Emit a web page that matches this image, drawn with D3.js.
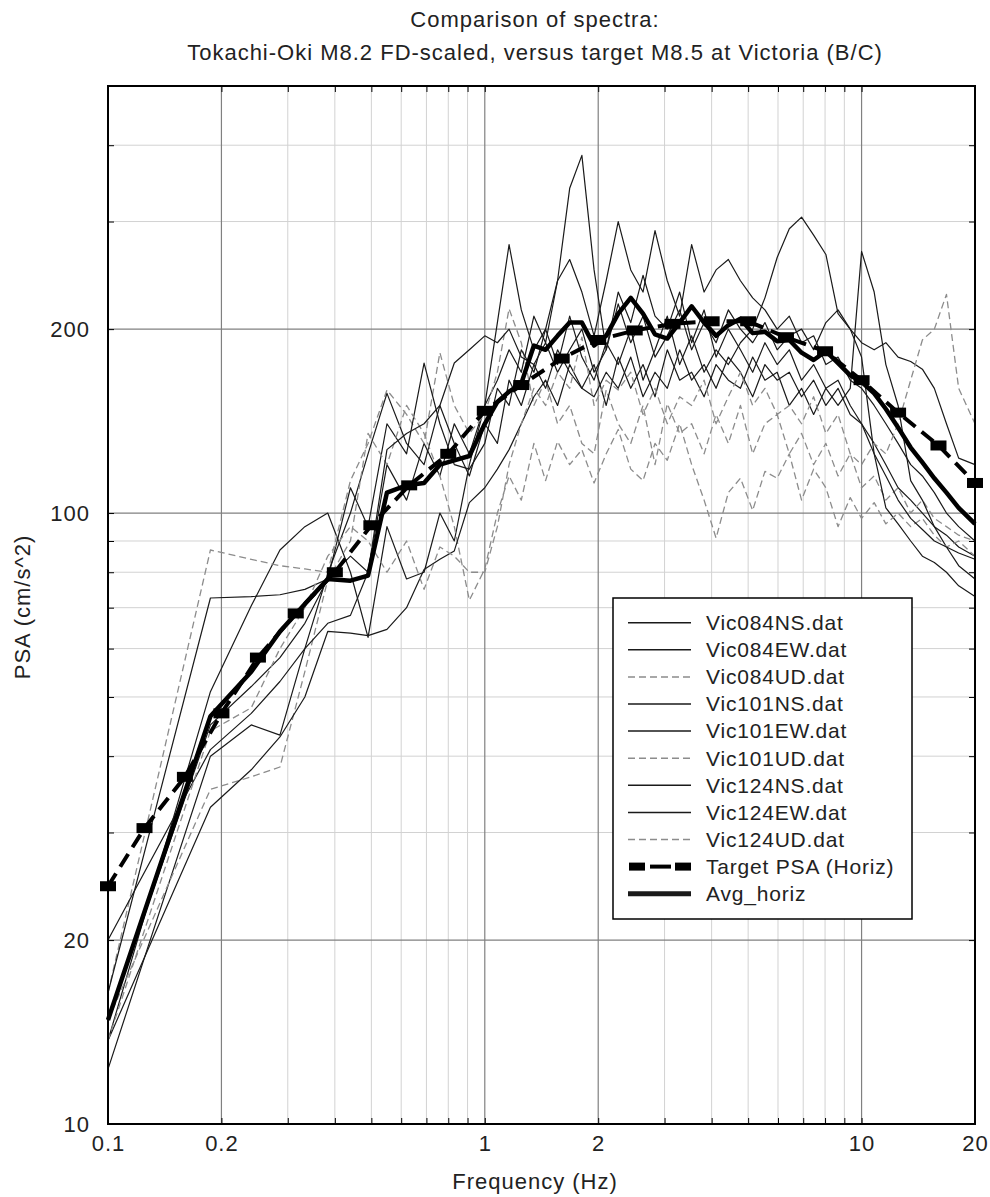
<!DOCTYPE html>
<html>
<head>
<meta charset="utf-8">
<script src="https://cdn.jsdelivr.net/npm/d3@7"></script>
<style>
  body { margin: 0; background: #fff; }
  svg text { font-family: "Liberation Sans", Arial, sans-serif; fill: #222; }
</style>
</head>
<body>
<div class="visHolder"></div>
<script>
const w = 990, h = 1197;
const margin = {top: 86, right: 15, bottom: 73, left: 108};

// frequencies (Hz) shared by the recorded spectra
const freqs = [0.1, 0.187, 0.24, 0.286, 0.333, 0.383, 0.44, 0.49, 0.55, 0.62, 0.69, 0.76, 0.83, 0.91,
  1.0, 1.08, 1.16, 1.25, 1.35, 1.45, 1.56, 1.68, 1.81, 1.95,
  2.1, 2.26, 2.44, 2.63, 2.83, 3.05, 3.29, 3.54, 3.82, 4.11,
  4.43, 4.77, 5.14, 5.54, 5.97, 6.43, 6.93, 7.46, 8.04, 8.66,
  9.33, 10.0, 10.8, 11.6, 12.5, 13.5, 14.5, 15.6, 16.8, 18.1, 20];

// PSA (cm/s^2)
const vic084NS = [14.8, 45, 52, 58, 66, 78, 85, 80, 120, 105, 130, 115, 140, 125,
  150, 165, 185, 170, 210, 190, 240, 340, 385, 250,
  185, 230, 205, 245, 210, 200, 230, 190, 215, 180,
  200, 185, 170, 190, 175, 185, 165, 175, 160, 165,
  150, 140, 130, 120, 110, 105, 100, 95, 92, 88, 85];
const vic084EW = [13.7, 51, 70.5, 87, 95, 100, 80, 62.6, 95, 78, 80, 100, 90, 120,
  150, 205, 275, 215, 185, 200, 240, 260, 230, 195,
  240, 300, 250, 230, 290, 240, 210, 275, 230, 250,
  260, 240, 225, 215, 200, 210, 190, 195, 175, 180,
  165, 160, 150, 140, 130, 120, 115, 108, 100, 95, 90];
const vic084UD = [16.4, 87, 84, 82, 81, 80, 113, 130, 159, 145, 130, 183, 150, 135,
  145, 170, 216, 190, 150, 165, 140, 150, 130, 125,
  159, 140, 130, 150, 120, 151, 135, 140, 125, 145,
  130, 150, 125, 140, 145, 125, 135, 120, 130, 115,
  125, 110, 115, 105, 110, 100, 105, 98, 95, 92, 90];
const vic101NS = [16.4, 72.6, 73, 73.5, 75, 78, 110, 95, 140, 125, 176, 140, 120, 118,
  130, 160, 150, 185, 170, 200, 175, 210, 180, 165,
  190, 175, 200, 165, 185, 210, 175, 195, 170, 185,
  175, 190, 200, 225, 262, 292, 305, 285, 265, 212,
  200, 180, 125, 102, 96, 90, 85, 83, 80, 76, 73];
const vic101EW = [12.3, 40, 45, 43.3, 60, 79.6, 100, 125, 157, 130, 120, 150, 130, 115,
  140, 130, 165, 150, 175, 160, 185, 170, 160, 175,
  150, 180, 160, 175, 155, 185, 165, 170, 155, 175,
  165, 160, 180, 165, 170, 150, 160, 145, 160, 150,
  160, 268, 230, 175, 150, 113, 105, 95, 88, 82, 78];
const vic101UD = [14.8, 35.3, 37, 38.4, 55, 77.7, 90, 135, 120, 150, 135, 115, 95, 72,
  81, 100, 115, 105, 130, 113, 131, 120, 127, 112,
  125, 137, 118, 113, 130, 122, 140, 120, 105, 91,
  108, 114, 101, 117, 114, 125, 105, 118, 110, 95,
  106, 98, 104, 96, 100, 95, 98, 92, 88, 90, 85];
const vic124NS = [20, 41, 47, 53, 60, 66, 68, 80, 127, 135, 140, 150, 176, 185,
  195, 190, 200, 180, 175, 190, 170, 185, 200, 170,
  185, 220, 190, 210, 180, 195, 215, 185, 205, 190,
  215, 200, 190, 205, 185, 195, 200, 185, 205, 215,
  200, 190, 185, 190, 180, 177, 172, 160, 140, 123, 120];
const vic124EW = [13.7, 33, 38, 43, 50, 64, 63.6, 63, 64.5, 70, 80.8, 84, 86.7, 104,
  110, 118, 127, 140, 155, 165, 150, 175, 160, 155,
  170, 160, 180, 155, 170, 160, 185, 165, 175, 160,
  180, 170, 155, 175, 165, 170, 155, 165, 150, 160,
  145, 140, 125, 115, 105, 98, 94, 90, 88, 86, 84];
const vic124UD = [13.7, 44, 48, 60, 70, 85, 95, 90, 80, 90, 75, 88, 85, 80,
  80, 95, 120, 140, 160, 150, 170, 160, 194, 150,
  165, 159, 170, 145, 160, 140, 155, 150, 165, 140,
  155, 170, 150, 160, 145, 150, 140, 155, 135, 145,
  125, 120, 130, 125, 140, 165, 192, 200, 228, 160, 140];
const avgHoriz = [14.8, 46.5, 55, 64, 71, 78, 77.5, 79, 108, 111, 112, 120, 122, 124,
  140, 152, 158, 163, 188, 185, 195, 205, 205, 188,
  195, 212, 225, 212, 196, 193, 205, 218, 205, 195,
  203, 208, 197, 198, 191, 192, 183, 178, 184, 176,
  168, 164, 157, 148, 138, 128, 121, 114, 108, 102, 96];

// target spectrum
const targetFreqs = [0.1, 0.125, 0.16, 0.2, 0.25, 0.315, 0.4, 0.5, 0.63, 0.8, 1, 1.25,
  1.6, 2, 2.5, 3.15, 4, 5, 6.3, 8, 10, 12.5, 16, 20];
const targetPSA = [24.5, 30.5, 37, 47, 58, 68.5, 80, 95.5, 111, 125, 147, 162,
  179, 192, 199, 204, 206, 206, 194, 184, 165, 146, 129, 112];

const xMajor = [0.2, 1, 2, 10];
const xMinor = [0.3, 0.4, 0.5, 0.6, 0.7, 0.8, 0.9, 3, 4, 5, 6, 7, 8, 9];
const yMajor = [20, 100, 200];
const yMinor = [30, 40, 50, 60, 70, 80, 90, 300, 400];
const xTickLabels = [0.1, 0.2, 1, 2, 10, 20];
const yTickLabels = [10, 20, 100, 200];

const series = [
  {name: 'Vic084NS.dat', values: vic084NS, ud: false},
  {name: 'Vic084EW.dat', values: vic084EW, ud: false},
  {name: 'Vic084UD.dat', values: vic084UD, ud: true},
  {name: 'Vic101NS.dat', values: vic101NS, ud: false},
  {name: 'Vic101EW.dat', values: vic101EW, ud: false},
  {name: 'Vic101UD.dat', values: vic101UD, ud: true},
  {name: 'Vic124NS.dat', values: vic124NS, ud: false},
  {name: 'Vic124EW.dat', values: vic124EW, ud: false},
  {name: 'Vic124UD.dat', values: vic124UD, ud: true}
];

const svg = d3.select('.visHolder')
  .append('svg')
  .attr('width', w)
  .attr('height', h);

const xScale = d3.scaleLog()
  .domain([0.1, 20])
  .range([margin.left, w - margin.right]);

const yScale = d3.scaleLog()
  .domain([10, 500])
  .range([h - margin.bottom, margin.top]);

const x0 = margin.left, x1 = w - margin.right;
const y0 = h - margin.bottom, y1 = margin.top;

// grid
const grid = svg.append('g');
grid.selectAll('.xminor').data(xMinor).join('line')
  .attr('x1', d => xScale(d)).attr('x2', d => xScale(d))
  .attr('y1', y0).attr('y2', y1)
  .attr('stroke', '#d2d2d2').attr('stroke-width', 1);
grid.selectAll('.yminor').data(yMinor).join('line')
  .attr('y1', d => yScale(d)).attr('y2', d => yScale(d))
  .attr('x1', x0).attr('x2', x1)
  .attr('stroke', '#d2d2d2').attr('stroke-width', 1);
grid.selectAll('.xmajor').data(xMajor).join('line')
  .attr('x1', d => xScale(d)).attr('x2', d => xScale(d))
  .attr('y1', y0).attr('y2', y1)
  .attr('stroke', '#808080').attr('stroke-width', 1.2);
grid.selectAll('.ymajor').data(yMajor).join('line')
  .attr('y1', d => yScale(d)).attr('y2', d => yScale(d))
  .attr('x1', x0).attr('x2', x1)
  .attr('stroke', '#808080').attr('stroke-width', 1.2);

// small inward ticks on all four sides
const allX = xMajor.concat(xMinor);
const allY = yMajor.concat(yMinor);
const tickFmt = () => '';
svg.append('g').attr('transform', `translate(0,${y0})`)
  .call(d3.axisBottom(xScale).tickValues(allX).tickSize(-6).tickFormat(tickFmt))
  .call(g => g.select('.domain').remove());
svg.append('g').attr('transform', `translate(0,${y1})`)
  .call(d3.axisTop(xScale).tickValues(allX).tickSize(-6).tickFormat(tickFmt))
  .call(g => g.select('.domain').remove());
svg.append('g').attr('transform', `translate(${x0},0)`)
  .call(d3.axisLeft(yScale).tickValues(allY).tickSize(-6).tickFormat(tickFmt))
  .call(g => g.select('.domain').remove());
svg.append('g').attr('transform', `translate(${x1},0)`)
  .call(d3.axisRight(yScale).tickValues(allY).tickSize(-6).tickFormat(tickFmt))
  .call(g => g.select('.domain').remove());

// spectra
const line = d3.line()
  .x(d => xScale(d[0]))
  .y(d => yScale(d[1]));

const plot = svg.append('g');
series.forEach(s => {
  plot.append('path')
    .datum(freqs.map((f, i) => [f, s.values[i]]))
    .attr('d', line)
    .attr('fill', 'none')
    .attr('stroke', s.ud ? '#8c8c8c' : '#1a1a1a')
    .attr('stroke-width', s.ud ? 1.3 : 1.2)
    .attr('stroke-dasharray', s.ud ? '7,4' : null)
    .attr('stroke-linejoin', 'round');
});

// target
const targetData = targetFreqs.map((f, i) => [f, targetPSA[i]]);
plot.append('path')
  .datum(targetData)
  .attr('d', line)
  .attr('fill', 'none')
  .attr('stroke', '#000')
  .attr('stroke-width', 4)
  .attr('stroke-dasharray', '15,8');
plot.selectAll('.tmark').data(targetData).join('rect')
  .attr('x', d => xScale(d[0]) - 8)
  .attr('y', d => yScale(d[1]) - 5)
  .attr('width', 16).attr('height', 10)
  .attr('fill', '#000');

// average of horizontals
plot.append('path')
  .datum(freqs.map((f, i) => [f, avgHoriz[i]]))
  .attr('d', line)
  .attr('fill', 'none')
  .attr('stroke', '#000')
  .attr('stroke-width', 4.5)
  .attr('stroke-linejoin', 'round');

// frame
svg.append('rect')
  .attr('x', x0).attr('y', y1)
  .attr('width', x1 - x0).attr('height', y0 - y1)
  .attr('fill', 'none').attr('stroke', '#000').attr('stroke-width', 2);

// tick labels
svg.append('g').attr('transform', `translate(0,${y0})`)
  .call(d3.axisBottom(xScale).tickValues(xTickLabels).tickSize(0).tickPadding(11)
    .tickFormat(d => String(d)))
  .call(g => g.select('.domain').remove())
  .selectAll('text').style('font-size', '22px').style('letter-spacing', '1px').attr('fill', '#222');
svg.append('g').attr('transform', `translate(${x0},0)`)
  .call(d3.axisLeft(yScale).tickValues(yTickLabels).tickSize(0).tickPadding(18)
    .tickFormat(d => String(d)))
  .call(g => g.select('.domain').remove())
  .selectAll('text').style('font-size', '22px').style('letter-spacing', '1px').attr('fill', '#222');

// titles
const bigText = (sel) => sel.style('font-size', '22px').style('letter-spacing', '1px');
svg.append('text')
  .attr('x', 535).attr('y', 27)
  .attr('text-anchor', 'middle')
  .call(bigText)
  .text('Comparison of spectra:');
svg.append('text')
  .attr('x', 535).attr('y', 60)
  .attr('text-anchor', 'middle')
  .call(bigText)
  .text('Tokachi-Oki M8.2 FD-scaled, versus target M8.5 at Victoria (B/C)');
svg.append('text')
  .attr('x', 535).attr('y', 1189)
  .attr('text-anchor', 'middle')
  .call(bigText)
  .text('Frequency (Hz)');
svg.append('text')
  .attr('transform', 'translate(30,607) rotate(-90)')
  .attr('text-anchor', 'middle')
  .call(bigText)
  .text('PSA (cm/s^2)');

// legend
const legend = svg.append('g');
legend.append('rect')
  .attr('x', 613).attr('y', 598)
  .attr('width', 299).attr('height', 321)
  .attr('fill', '#fff').attr('stroke', '#000').attr('stroke-width', 1.5);

const legendRows = series.map(s => ({name: s.name, kind: s.ud ? 'ud' : 'solid'}))
  .concat([{name: 'Target PSA (Horiz)', kind: 'target'}, {name: 'Avg_horiz', kind: 'avg'}]);

legendRows.forEach((r, i) => {
  const y = 622.7 + 27.1 * i;
  const g = legend.append('g');
  if (r.kind === 'target') {
    g.append('rect').attr('x', 629).attr('y', y - 4).attr('width', 16).attr('height', 8).attr('fill', '#000');
    g.append('line').attr('x1', 650).attr('x2', 671).attr('y1', y).attr('y2', y)
      .attr('stroke', '#000').attr('stroke-width', 4);
    g.append('rect').attr('x', 675).attr('y', y - 4).attr('width', 16).attr('height', 8).attr('fill', '#000');
  } else {
    g.append('line').attr('x1', 628).attr('x2', 691).attr('y1', y).attr('y2', y)
      .attr('stroke', r.kind === 'ud' ? '#8c8c8c' : '#1a1a1a')
      .attr('stroke-width', r.kind === 'avg' ? 5 : 1.5)
      .attr('stroke-dasharray', r.kind === 'ud' ? '7,4' : null);
  }
  g.append('text')
    .attr('x', 706).attr('y', y).attr('dy', '0.35em')
    .style('font-size', '21px').style('letter-spacing', '0.8px')
    .text(r.name);
});
</script>
</body>
</html>
